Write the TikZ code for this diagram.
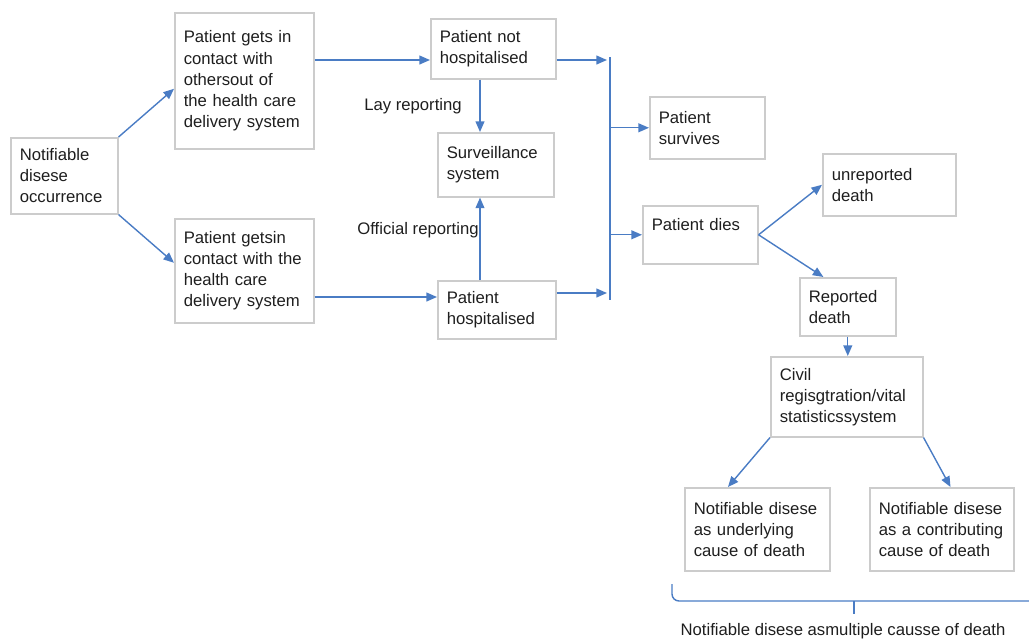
\documentclass[tikz,border=0pt]{standalone}
\usepackage{fontspec}
\setmainfont{Liberation Sans}
\usetikzlibrary{arrows.meta,positioning}
\usetikzlibrary{calc}

\definecolor{flowblue}{HTML}{4A7CC4}
\definecolor{boxgray}{HTML}{CCCCCC}
\definecolor{inkgray}{HTML}{1E1E1E}

\tikzset{
  box/.style={draw=boxgray, line width=0.9pt, anchor=north west, align=left,
    inner xsep=5pt, text=inkgray, font=\fontsize{9.5}{12}\selectfont},
  flow/.style={draw=flowblue, line width=0.8pt, -{Triangle[length=6pt,width=5pt]}},
  tag/.style={text=inkgray, font=\fontsize{9.5}{12}\selectfont}
}

\begin{document}
\begin{tikzpicture}[x=0.02cm,y=-0.02cm]
\useasboundingbox (0,0) rectangle (1029,640);
% boxes
\node[box, minimum width=2.14cm, minimum height=1.52cm, text width=1.78cm] (occ) at (10,137)
  {Notifiable\\disese\\occurrence};
\node[box, minimum width=2.78cm, minimum height=2.72cm, text width=2.42cm] (outside) at (174,12)
  {Patient gets in\\contact with\\othersout of\\the health care\\delivery system};
\node[box, minimum width=2.78cm, minimum height=2.08cm, text width=2.42cm] (inside) at (174,218)
  {Patient getsin\\contact with the\\health care\\delivery system};
\node[box, minimum width=2.5cm, minimum height=1.2cm, text width=2.14cm] (nothosp) at (430,18)
  {Patient not\\hospitalised};
\node[box, minimum width=2.32cm, minimum height=1.28cm, text width=1.96cm] (surv) at (437,132)
  {Surveillance\\system};
\node[box, minimum width=2.36cm, minimum height=1.16cm, text width=2cm] (hosp) at (437,280)
  {Patient\\hospitalised};
\node[box, minimum width=2.3cm, minimum height=1.24cm, text width=1.94cm] (survives) at (649,96)
  {Patient\\survives};
\node[box, minimum width=2.3cm, minimum height=1.16cm, text width=1.94cm] (dies) at (642,205)
  {Patient dies\\\mbox{}};
\node[box, minimum width=2.66cm, minimum height=1.24cm, text width=2.3cm] (unrep) at (822,153)
  {unreported\\death};
\node[box, minimum width=1.92cm, minimum height=1.16cm, text width=1.56cm] (rep) at (799,277)
  {Reported\\death};
\node[box, minimum width=3.04cm, minimum height=1.6cm, text width=2.68cm] (civil) at (770,356)
  {Civil\\regisgtration/vital\\statisticssystem};
\node[box, minimum width=2.9cm, minimum height=1.66cm, text width=2.54cm] (under) at (684,487)
  {Notifiable disese\\as underlying\\cause of death};
\node[box, minimum width=2.88cm, minimum height=1.66cm, text width=2.52cm] (contrib) at (869,487)
  {Notifiable disese\\as a contributing\\cause of death};
% labels
\node[tag] (lay) at (413,106) {Lay reporting};
\node[tag] (official) at (418,230) {Official reporting};
% junctions
\coordinate (col) at (480,0);
\coordinate (upper) at (607,60);
\coordinate (lower) at (607,293);
\coordinate (lowrow) at (437,297);
\coordinate (busT) at (610,57);
\coordinate (busB) at (610,300);
% connectors
\draw[flow] (occ.north east) -- ([yshift=-0.16cm]outside.west);
\draw[flow] (occ.south east) -- ([yshift=0.16cm]inside.west);
\draw[flow] (outside.east |- upper) -- (nothosp.west |- upper);
\draw[flow] (inside.east |- lowrow) -- (lowrow);
\draw[flow] (nothosp.south -| col) -- (surv.north -| col);
\draw[flow] (hosp.north -| col) -- (surv.south -| col);
\draw[flow] (nothosp.east |- upper) -- (upper);
\draw[flow] (hosp.east |- lower) -- (lower);
\draw[flowblue, line width=0.8pt] (busT) -- (busB);
\draw[flow] (survives.west -| busT) -- (survives.west);
\draw[flow] (dies.west -| busT) -- (dies.west);
\draw[flow] (dies.east) -- (unrep.west);
\draw[flow] (dies.east) -- ($(rep.north west)!0.25!(rep.north east)$);
\draw[flow] (rep.south) -- (civil.north -| rep.south);
\draw[flow] (civil.south west) -- ($(under.north west)!0.3!(under.north east)$);
\draw[flow] (civil.south east) -- ($(contrib.north west)!0.56!(contrib.north east)$);
% brace
\draw[flowblue, line width=0.8pt, rounded corners=4pt] (672,584) -- (672,601) -- (1029,601);
\draw[flowblue, line width=0.8pt] (854,601) -- (854,614);
\node[tag] (multiple) at (843,631) {Notifiable disese asmultiple causse of death};
\end{tikzpicture}
\end{document}
